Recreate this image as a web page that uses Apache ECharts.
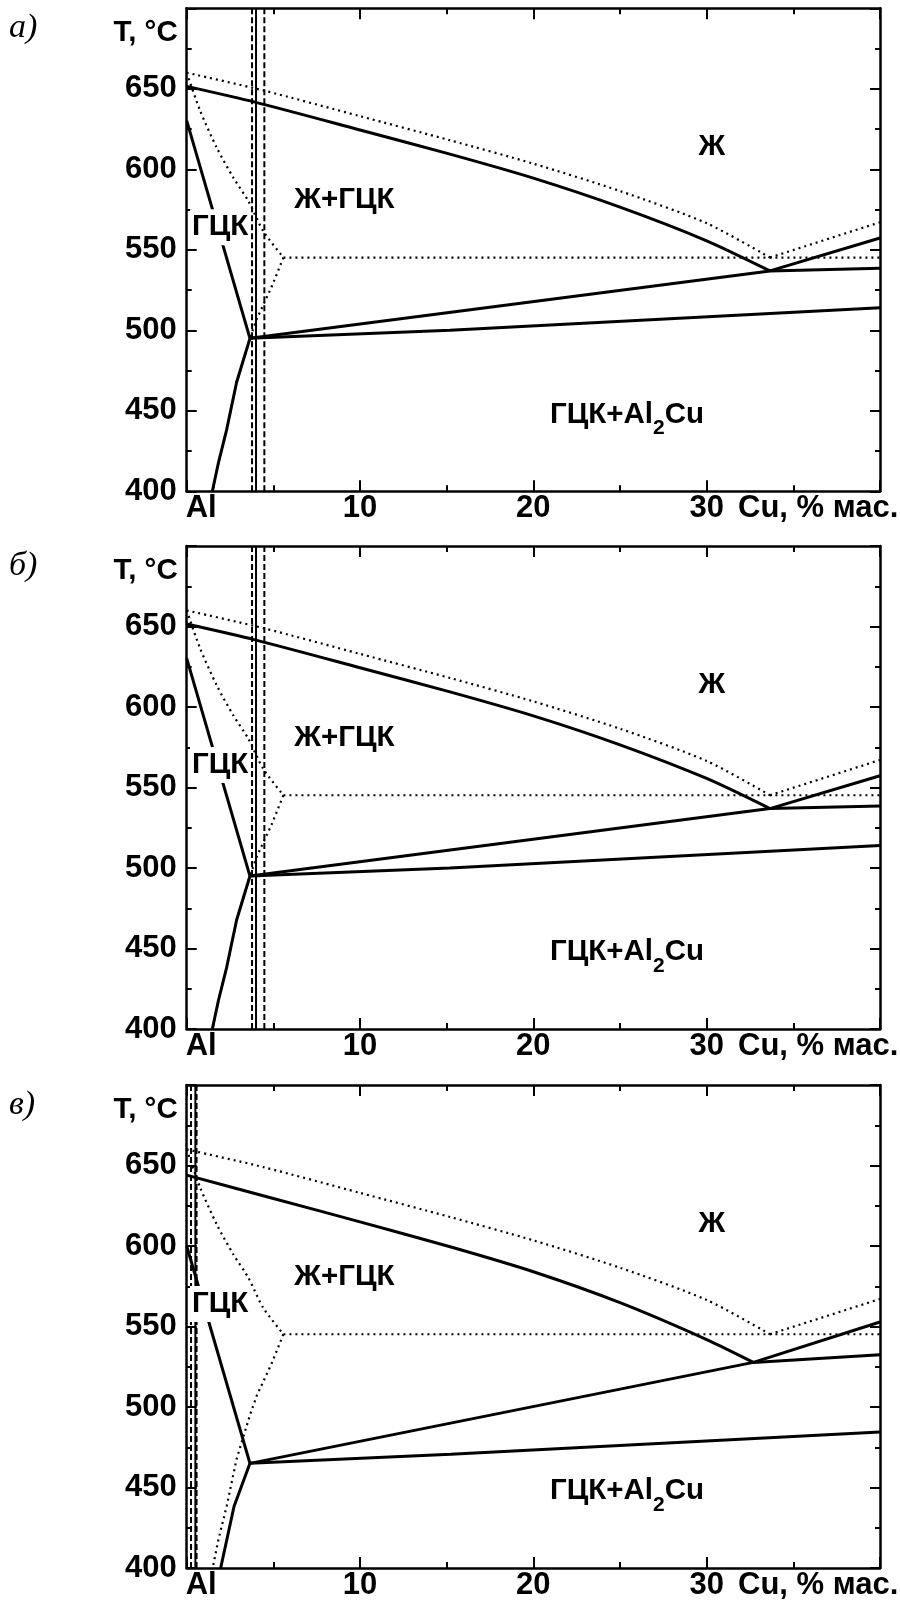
<!DOCTYPE html>
<html><head><meta charset="utf-8">
<script src="https://cdn.jsdelivr.net/npm/echarts@6/dist/echarts.min.js"></script>
<style>html,body{margin:0;padding:0;background:#fff}#c{width:900px;height:1611px}</style>
</head><body><div id="c"></div>
<script>
// ---------- axes / texts ----------
const xRange = [0, 40];
const yRange = [400, 700];
const xTickLabels = {0: 'Al', 10: '10', 20: '20', 30: '30', 40: ''};
const xTitle = 'Cu, % мас.';
const yTitle = 'T, °C';
const panelLetters = ['а)', 'б)', 'в)'];

// ---------- equilibrium lines (dotted, same on every panel) ----------
const eqLiquidus   = [[0,660],[4.42,649],[10,633],[15.2,618],[20,603.5],[25,586.5],[30,566.5],[33.65,545.2]];
const eqLiquidusCu = [[33.65,545.2],[40,567.1]];
const eqEutectic   = [[5.58,545.2],[40,545.2]];
const eqSolidus    = [[0,660],[0.77,636.5],[1.73,613.5],[2.69,594.8],[3.56,580.2],[4.42,561.5],[5.58,545.2]];
const eqSolvus     = [[5.58,545.2],[4.9,527],[4.04,507],[3.65,495],[2.88,467.7],[2.31,438.5],[1.83,417.7],[1.5,400]];

// ---------- panel а) ----------
const liquidusA   = [[0,651.5],[3.94,641.7],[10,624.4],[15.19,609.4],[20,594.5],[25,576.5],[30,555.6],[33.65,536.9]];
const liquidusCuA = [[33.65,536.9],[40,557.3]];
const solidusA    = [[0,630.2],[3.65,495]];
const solvusA     = [[3.65,495],[2.88,467.7],[2.31,438.5],[1.83,417.7],[1.48,400]];
const eutUpperA   = [[3.65,495],[33.65,536.9],[40,538.5]];
const eutLowerA   = [[3.65,495],[15.19,500],[40,514]];
const alloyA      = 4.0;          // solid vertical
const alloyRangeA = [3.77, 4.48]; // dashed verticals

// ---------- panel б) ----------
const liquidusB   = [[0,651.5],[3.94,641.7],[10,624.4],[15.19,609.4],[20,594.5],[25,576.5],[30,555.6],[33.65,536.9]];
const liquidusCuB = [[33.65,536.9],[40,557.3]];
const solidusB    = [[0,630.2],[3.65,495]];
const solvusB     = [[3.65,495],[2.88,467.7],[2.31,438.5],[1.83,417.7],[1.48,400]];
const eutUpperB   = [[3.65,495],[33.65,536.9],[40,538.5]];
const eutLowerB   = [[3.65,495],[15.19,500],[40,514]];
const alloyB      = 4.0;
const alloyRangeB = [3.77, 4.48];

// ---------- panel в) ----------
const liquidusC   = [[0,644],[5,629.5],[10,615],[15.2,599.5],[20,584],[25,564.8],[30,541.9],[32.7,527.7]];
const liquidusCuC = [[32.7,527.7],[40,552.8]];
const solidusC    = [[0,600],[3.65,465]];
const solvusC     = [[3.65,465],[2.73,438.2],[1.96,400]];
const eutUpperC   = [[3.65,465],[32.7,527.7],[40,532.5]];
const eutLowerC   = [[3.65,465],[15.23,470.6],[40,484.5]];
const alloyC      = 0.5;
const alloyRangeC = [0.25, 0.57];

// ---------- region labels [text, wt% Cu, T] ----------
const regionLabels = [
  ['Ж', 30.3, 614],
  ['Ж+ГЦК', 9.1, 581],
  ['ГЦК', 1.93, 564],
  ['ГЦК+Al2Cu', 25.4, 447]
];

const panels = [
  {liq: liquidusA, liqCu: liquidusCuA, sol: solidusA, solv: solvusA, eu: eutUpperA, el: eutLowerA, alloy: alloyA, range: alloyRangeA},
  {liq: liquidusB, liqCu: liquidusCuB, sol: solidusB, solv: solvusB, eu: eutUpperB, el: eutLowerB, alloy: alloyB, range: alloyRangeB},
  {liq: liquidusC, liqCu: liquidusCuC, sol: solidusC, solv: solvusC, eu: eutUpperC, el: eutLowerC, alloy: alloyC, range: alloyRangeC}
];

// ---------- layout / style ----------
const FONT = '"Liberation Sans", Arial, Helvetica, sans-serif';
const SERIF = '"Liberation Serif", "Times New Roman", serif';
const gridTops = [8.3, 546, 1085];
const gridH = 483;
const gridLeft = 186.7, gridW = 693.3;
const TICKFS = 31, LABFS = 29.5;

const grids = [], xAxes = [], yAxes = [], series = [], titles = [];
const tickLine = {color: '#000', width: 2};
const DOT = [2, 4], DASH = [6, 3];

panels.forEach((p, gi) => {
  grids.push({left: gridLeft, width: gridW, top: gridTops[gi], height: gridH, containLabel: false, outerBoundsMode: 'none'});
  const baseX = {
    gridIndex: gi, type: 'value', min: xRange[0], max: xRange[1], interval: 10,
    splitLine: {show: false}, minorSplitLine: {show: false},
    axisLine: {show: true, onZero: false, lineStyle: {color: '#000', width: 2.5}},
    axisTick: {show: true, inside: true, length: 11, lineStyle: tickLine},
    minorTick: {show: true, splitNumber: 2, length: 6, lineStyle: tickLine}
  };
  xAxes.push(Object.assign({}, baseX, {
    position: 'bottom',
    axisLabel: {
      show: true, margin: 2, color: '#000', fontFamily: FONT, fontWeight: 'bold', fontSize: TICKFS,
      formatter: v => v === 0 ? '{al|' + xTickLabels[0] + '}' : (xTickLabels[v] !== undefined ? xTickLabels[v] : ''),
      rich: {al: {padding: [0, 0, 0, 29], fontFamily: FONT, fontWeight: 'bold', fontSize: TICKFS, color: '#000'}}
    },
    name: xTitle, nameLocation: 'end', nameGap: -142,
    nameTextStyle: {color: '#000', fontFamily: FONT, fontWeight: 'bold', fontSize: TICKFS, align: 'left', verticalAlign: 'top', padding: [2, 0, 0, 0]}
  }));
  xAxes.push(Object.assign({}, baseX, {position: 'top', axisLabel: {show: false}}));

  const baseY = {
    gridIndex: gi, type: 'value', min: yRange[0], max: yRange[1], interval: 50,
    splitLine: {show: false}, minorSplitLine: {show: false},
    axisLine: {show: true, onZero: false, lineStyle: {color: '#000', width: 2.5}},
    axisTick: {show: true, inside: true, length: 10, lineStyle: tickLine},
    minorTick: {show: true, splitNumber: 2, length: 5, lineStyle: tickLine}
  };
  yAxes.push(Object.assign({}, baseY, {
    position: 'left',
    axisLabel: {show: true, margin: 10, color: '#000', fontFamily: FONT, fontWeight: 'bold', fontSize: TICKFS,
      formatter: v => v === yRange[1] ? '' : String(v)},
    name: yTitle, nameLocation: 'end', nameGap: -25,
    nameTextStyle: {color: '#000', fontFamily: FONT, fontWeight: 'bold', fontSize: 29.5, align: 'right', verticalAlign: 'middle', padding: [0, 9, 0, 0]}
  }));
  yAxes.push(Object.assign({}, baseY, {position: 'right', axisLabel: {show: false}}));

  const xi = gi * 2, yi = gi * 2;
  const line = (data, type, width, z, smooth) => ({
    type: 'line', xAxisIndex: xi, yAxisIndex: yi, data: data, symbol: 'none', silent: true,
    animation: false, z: z, smooth: smooth ? 0.25 : false,
    lineStyle: {color: '#000', width: width, type: type, cap: 'butt'}
  });
  // dotted equilibrium lines
  series.push(line(eqLiquidus, DOT, 2.2, 2, true));
  series.push(line(eqLiquidusCu, DOT, 2.2, 2, false));
  series.push(line(eqEutectic, DOT, 2.2, 2, false));
  series.push(line(eqSolidus, DOT, 2.2, 2, true));
  series.push(line(eqSolvus, DOT, 2.2, 2, false));
  // solid lines
  series.push(line(p.liq, 'solid', 3, 3, true));
  series.push(line(p.liqCu, 'solid', 3, 3, false));
  series.push(line(p.sol, 'solid', 3, 3, false));
  series.push(line(p.solv, 'solid', 3, 3, false));
  series.push(line(p.eu, 'solid', 3, 3, false));
  series.push(line(p.el, 'solid', 3, 3, false));
  // composition verticals
  series.push(line([[p.alloy, yRange[0]], [p.alloy, yRange[1]]], 'solid', 2, 4, false));
  p.range.forEach(x => series.push(line([[x, yRange[0]], [x, yRange[1]]], DASH, 2, 4, false)));

  // region labels
  series.push({
    type: 'scatter', xAxisIndex: xi, yAxisIndex: yi, symbolSize: 0, silent: true, animation: false, z: 10,
    itemStyle: {color: '#000', opacity: 1},
    data: regionLabels.map(l => {
      const item = {name: l[0], value: [l[1], l[2]]};
      if (l[0] === 'ГЦК') item.label = {backgroundColor: '#fff', padding: [3, 2, 3, 2]};
      return item;
    }),
    label: {
      show: true, position: 'inside', color: '#000', opacity: 1, textBorderWidth: 0,
      fontFamily: FONT, fontWeight: 'bold', fontSize: LABFS,
      formatter: prm => {
        const m = prm.name.match(/^(.*Al)(\d)(.*)$/);
        return m ? '{m|' + m[1] + '}{s|' + m[2] + '}{m|' + m[3] + '}' : prm.name;
      },
      rich: {
        m: {fontFamily: FONT, fontWeight: 'bold', fontSize: LABFS, color: '#000', lineHeight: 32, verticalAlign: 'top', textBorderWidth: 0},
        s: {fontFamily: FONT, fontWeight: 'bold', fontSize: 21, color: '#000', lineHeight: 21, padding: [18, 0, 0, 0], verticalAlign: 'top', textBorderWidth: 0}
      }
    }
  });

  titles.push({
    text: panelLetters[gi], left: 9, top: gridTops[gi] + 3, padding: 0,
    textStyle: {fontFamily: SERIF, fontStyle: 'italic', fontWeight: 'normal', fontSize: 34, color: '#000'}
  });
});

const chart = echarts.init(document.getElementById('c'), null, {renderer: 'canvas', width: 900, height: 1611});
chart.setOption({
  animation: false,
  backgroundColor: '#fff',
  title: titles,
  grid: grids,
  xAxis: xAxes,
  yAxis: yAxes,
  series: series
});
</script>
</body></html>
